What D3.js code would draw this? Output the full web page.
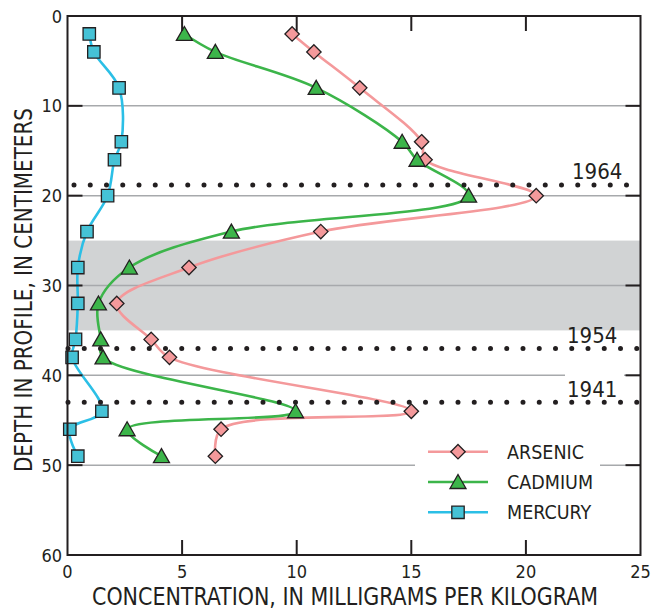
<!DOCTYPE html>
<html>
<head>
<meta charset="utf-8">
<script src="https://cdn.jsdelivr.net/npm/d3@7/dist/d3.min.js"></script>
<style>
  html, body { margin: 0; padding: 0; background: #fff; }
  svg { display: block; }
  text { font-family: "Liberation Sans Narrow", "DejaVu Sans Condensed", "Arial Narrow", sans-serif; fill: #231f20; }
</style>
</head>
<body>
<svg id="chart" width="651" height="612"></svg>
<script>
// Sample depths (cm) and concentrations (mg/kg)
const depths  = [2, 4, 8, 14, 16, 20, 24, 28, 32, 36, 38, 44, 46, 49];
const arsenic = [9.8, 10.75, 12.75, 15.45, 15.6, 20.45, 11.05, 5.3, 2.15, 3.65, 4.45, 15.0, 6.7, 6.45];
const cadmium = [5.1, 6.45, 10.85, 14.6, 15.25, 17.5, 7.15, 2.7, 1.35, 1.45, 1.55, 9.95, 2.6, 4.1];
const mercury = [0.95, 1.15, 2.25, 2.35, 2.05, 1.75, 0.85, 0.45, 0.45, 0.35, 0.2, 1.5, 0.1, 0.45];

const xTicks = [0, 5, 10, 15, 20, 25];
const yTicks = [0, 10, 20, 30, 40, 50, 60];

// Dated horizons and shaded interval
const horizonYears  = ["1964", "1954", "1941"];
const horizonDepths = [18.8, 37, 43];
const bandRange = [25, 35];

const seriesNames = ["ARSENIC", "CADMIUM", "MERCURY"];

const margin = { left: 67.5, right: 10.5, top: 16, bottom: 57 };
const W = 651, H = 612;
const svg = d3.select("#chart");

const x = d3.scaleLinear().domain([0, 25]).range([margin.left, W - margin.right]);
const y = d3.scaleLinear().domain([0, 60]).range([margin.top, H - margin.bottom]);

const ink = "#231f20";
const series = [
  { name: seriesNames[0], values: arsenic, line: "#f4999b", fill: "#f4999b", shape: "diamond" },
  { name: seriesNames[1], values: cadmium, line: "#3cb54a", fill: "#3cb54a", shape: "triangle" },
  { name: seriesNames[2], values: mercury, line: "#2bbfe6", fill: "#45c2d6", shape: "square" }
];

function shapePath(shape) {
  if (shape === "diamond") return "M0,-7.2L7.2,0L0,7.2L-7.2,0Z";
  if (shape === "triangle") return "M0,-7.5L8,6.5L-8,6.5Z";
  return "M-6.2,-6.2H6.2V6.2H-6.2Z";
}

// shaded interval
svg.append("rect")
  .attr("x", x(0)).attr("y", y(bandRange[0]))
  .attr("width", x(25) - x(0)).attr("height", y(bandRange[1]) - y(bandRange[0]))
  .attr("fill", "#d1d3d4");

// horizontal grid lines
svg.append("g").selectAll("line")
  .data(yTicks.filter(d => d > 0 && d < 60))
  .join("line")
  .attr("x1", x(0)).attr("x2", x(25))
  .attr("y1", d => y(d)).attr("y2", d => y(d))
  .attr("stroke", "#a7a9ac").attr("stroke-width", 1.5);

// white backing for legend and 1941 label
svg.append("rect").attr("x", 415).attr("y", 432).attr("width", 185).attr("height", 96).attr("fill", "#fff");
svg.append("rect").attr("x", 565).attr("y", 368).attr("width", 59).attr("height", 30).attr("fill", "#fff");

// series lines
const line = d3.line()
  .x(d => x(d[0]))
  .y(d => y(d[1]))
  .curve(d3.curveCatmullRom.alpha(0.5));

series.forEach(s => {
  svg.append("path")
    .datum(s.values.map((v, i) => [v, depths[i]]))
    .attr("d", line)
    .attr("fill", "none")
    .attr("stroke", s.line)
    .attr("stroke-width", 2.6)
    .attr("stroke-linejoin", "round");
});

// dotted horizon lines
svg.append("g").selectAll("line")
  .data(horizonDepths)
  .join("line")
  .attr("x1", (d, i) => i === 0 ? x(0) + 6.5 : x(0) + 0.5)
  .attr("x2", x(25) + 1)
  .attr("y1", d => y(d)).attr("y2", d => y(d))
  .attr("stroke", ink).attr("stroke-width", 5)
  .attr("stroke-linecap", "round")
  .attr("stroke-dasharray", "0 16.25");

// horizon year labels
svg.append("g").selectAll("text")
  .data(horizonYears)
  .join("text")
  .attr("x", (d, i) => i === 0 ? 572 : 567)
  .attr("y", (d, i) => y(horizonDepths[i]) - 5.5)
  .attr("font-size", 22)
  .text(d => d);

// markers
series.forEach(s => {
  svg.append("g").selectAll("path")
    .data(s.values.map((v, i) => [v, depths[i]]))
    .join("path")
    .attr("transform", d => `translate(${x(d[0])},${y(d[1])})`)
    .attr("d", shapePath(s.shape))
    .attr("fill", s.fill)
    .attr("stroke", ink)
    .attr("stroke-width", 1.3)
    .attr("stroke-linejoin", "miter");
});

// frame
svg.append("rect")
  .attr("x", x(0)).attr("y", y(0))
  .attr("width", x(25) - x(0)).attr("height", y(60) - y(0))
  .attr("fill", "none").attr("stroke", ink).attr("stroke-width", 2);

// inward ticks on all four sides
const tickLen = 15;
const ticks = svg.append("g").attr("stroke", ink).attr("stroke-width", 2);
xTicks.filter(d => d > 0 && d < 25).forEach(d => {
  ticks.append("line").attr("x1", x(d)).attr("x2", x(d)).attr("y1", y(0)).attr("y2", y(0) + tickLen);
  ticks.append("line").attr("x1", x(d)).attr("x2", x(d)).attr("y1", y(60)).attr("y2", y(60) - tickLen);
});
yTicks.filter(d => d > 0 && d < 60).forEach(d => {
  ticks.append("line").attr("x1", x(0)).attr("x2", x(0) + tickLen).attr("y1", y(d)).attr("y2", y(d));
  ticks.append("line").attr("x1", x(25)).attr("x2", x(25) - tickLen).attr("y1", y(d)).attr("y2", y(d));
});

// tick labels
svg.append("g").selectAll("text")
  .data(xTicks).join("text")
  .attr("x", d => x(d)).attr("y", 578)
  .attr("text-anchor", "middle").attr("font-size", 18)
  .text(d => d);

svg.append("g").selectAll("text")
  .data(yTicks).join("text")
  .attr("x", 62).attr("y", d => y(d) + 6.5)
  .attr("text-anchor", "end").attr("font-size", 18)
  .text(d => d);

// axis titles
svg.append("text")
  .attr("x", 345).attr("y", 605)
  .attr("text-anchor", "middle").attr("font-size", 24)
  .attr("textLength", 506).attr("lengthAdjust", "spacingAndGlyphs")
  .text("CONCENTRATION, IN MILLIGRAMS PER KILOGRAM");

svg.append("text")
  .attr("transform", "translate(32,290) rotate(-90)")
  .attr("text-anchor", "middle").attr("font-size", 25)
  .attr("textLength", 364).attr("lengthAdjust", "spacingAndGlyphs")
  .text("DEPTH IN PROFILE, IN CENTIMETERS");

// legend
const legend = svg.append("g");
series.forEach((s, i) => {
  const ly = 451.7 + i * 30.3;
  legend.append("line").attr("x1", 428).attr("x2", 488).attr("y1", ly).attr("y2", ly)
    .attr("stroke", s.line).attr("stroke-width", 2.6);
  legend.append("path").attr("transform", `translate(458,${ly})`)
    .attr("d", shapePath(s.shape)).attr("fill", s.fill)
    .attr("stroke", ink).attr("stroke-width", 1.3);
  legend.append("text").attr("x", 507).attr("y", ly + 7).attr("font-size", 19.5).text(s.name);
});
</script>
</body>
</html>
